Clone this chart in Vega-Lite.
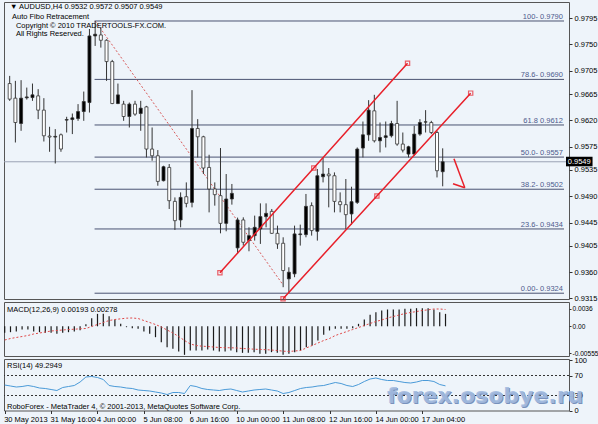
{
  "$schema": "https://vega.github.io/schema/vega-lite/v6.json",
  "background": "#eef4fa",
  "padding": {"left": 2, "top": 1, "right": 0, "bottom": 0},
  "spacing": 3,
  "bounds": "flush",
  "config": {
    "view": {"stroke": "#555555", "strokeWidth": 1, "fill": "#eef4fa"},
    "axis": {"labelFont": "Liberation Sans", "labelFontSize": 7.5, "labelColor": "#000000", "tickColor": "#333333", "tickSize": 3, "labelPadding": 2, "domain": false, "grid": false, "title": null},
    "text": {"font": "Liberation Sans", "fontSize": 7.5, "color": "#000000"}
  },
  "datasets": {
    "bars": [
      {"i":0,"o":0.96829,"h":0.96960,"l":0.96533,"c":0.96562,"m":-0.00134,"s":-0.00282,"r":51},
      {"i":1,"o":0.96579,"h":0.96875,"l":0.95820,"c":0.96162,"m":-0.00121,"s":-0.00251,"r":49},
      {"i":2,"o":0.96145,"h":0.96887,"l":0.96020,"c":0.96579,"m":-0.00107,"s":-0.00230,"r":47},
      {"i":3,"o":0.96585,"h":0.96760,"l":0.96555,"c":0.96600,"m":-0.00066,"s":-0.00210,"r":48},
      {"i":4,"o":0.96589,"h":0.96829,"l":0.96533,"c":0.96636,"m":-0.00066,"s":-0.00189,"r":50},
      {"i":5,"o":0.96618,"h":0.96733,"l":0.96220,"c":0.96374,"m":-0.00107,"s":-0.00158,"r":48},
      {"i":6,"o":0.96374,"h":0.96579,"l":0.95837,"c":0.95935,"m":-0.00121,"s":-0.00138,"r":45},
      {"i":7,"o":0.95930,"h":0.96089,"l":0.95661,"c":0.95913,"m":-0.00134,"s":-0.00117,"r":44},
      {"i":8,"o":0.95913,"h":0.96049,"l":0.95461,"c":0.95925,"m":-0.00134,"s":-0.00097,"r":42},
      {"i":9,"o":0.95952,"h":0.95974,"l":0.95661,"c":0.95708,"m":-0.00155,"s":-0.00086,"r":40},
      {"i":10,"o":0.96203,"h":0.96260,"l":0.95991,"c":0.96213,"m":-0.00134,"s":-0.00076,"r":46},
      {"i":11,"o":0.96213,"h":0.96316,"l":0.95964,"c":0.96242,"m":-0.00121,"s":-0.00066,"r":48},
      {"i":12,"o":0.96230,"h":0.96477,"l":0.96191,"c":0.96350,"m":-0.00107,"s":-0.00060,"r":50},
      {"i":13,"o":0.96350,"h":0.96692,"l":0.96191,"c":0.96521,"m":-0.00080,"s":-0.00051,"r":57},
      {"i":14,"o":0.96504,"h":0.97763,"l":0.96333,"c":0.97644,"m":0.00044,"s":-0.00045,"r":67},
      {"i":15,"o":0.97644,"h":0.97900,"l":0.97473,"c":0.97673,"m":0.00167,"s":-0.00004,"r":68},
      {"i":16,"o":0.97661,"h":0.97786,"l":0.97444,"c":0.97570,"m":0.00256,"s":0.00037,"r":66},
      {"i":17,"o":0.97570,"h":0.97587,"l":0.96875,"c":0.97205,"m":0.00256,"s":0.00078,"r":62},
      {"i":18,"o":0.97205,"h":0.97234,"l":0.96477,"c":0.96487,"m":0.00208,"s":0.00119,"r":50},
      {"i":19,"o":0.96487,"h":0.96829,"l":0.96477,"c":0.96635,"m":0.00140,"s":0.00140,"r":48},
      {"i":20,"o":0.96477,"h":0.96533,"l":0.96191,"c":0.96265,"m":0.00051,"s":0.00154,"r":47},
      {"i":21,"o":0.96265,"h":0.96504,"l":0.96077,"c":0.96477,"m":-0.00018,"s":0.00167,"r":45},
      {"i":22,"o":0.96477,"h":0.96533,"l":0.96277,"c":0.96306,"m":-0.00038,"s":0.00171,"r":44},
      {"i":23,"o":0.96316,"h":0.96533,"l":0.96020,"c":0.96408,"m":-0.00052,"s":0.00160,"r":41},
      {"i":24,"o":0.96430,"h":0.96447,"l":0.95564,"c":0.95708,"m":-0.00107,"s":0.00119,"r":40},
      {"i":25,"o":0.95708,"h":0.96077,"l":0.95508,"c":0.95593,"m":-0.00155,"s":0.00078,"r":39},
      {"i":26,"o":0.95593,"h":0.95690,"l":0.95080,"c":0.95154,"m":-0.00224,"s":0.00037,"r":37},
      {"i":27,"o":0.95166,"h":0.95422,"l":0.95154,"c":0.95405,"m":-0.00326,"s":-0.00014,"r":35},
      {"i":28,"o":0.95393,"h":0.95451,"l":0.94682,"c":0.94824,"m":-0.00429,"s":-0.00076,"r":32},
      {"i":29,"o":0.94812,"h":0.94880,"l":0.94323,"c":0.94482,"m":-0.00464,"s":-0.00138,"r":36},
      {"i":30,"o":0.94494,"h":0.94966,"l":0.94368,"c":0.94880,"m":-0.00518,"s":-0.00210,"r":36},
      {"i":31,"o":0.94892,"h":0.95137,"l":0.94710,"c":0.94778,"m":-0.00587,"s":-0.00292,"r":34},
      {"i":32,"o":0.94795,"h":0.96716,"l":0.94710,"c":0.96060,"m":-0.00498,"s":-0.00364,"r":50},
      {"i":33,"o":0.96060,"h":0.96220,"l":0.95564,"c":0.95918,"m":-0.00498,"s":-0.00395,"r":48},
      {"i":34,"o":0.95918,"h":0.95935,"l":0.95280,"c":0.95383,"m":-0.00498,"s":-0.00409,"r":44},
      {"i":35,"o":0.95393,"h":0.95610,"l":0.94624,"c":0.95024,"m":-0.00477,"s":-0.00416,"r":42},
      {"i":36,"o":0.95024,"h":0.95137,"l":0.94739,"c":0.94927,"m":-0.00498,"s":-0.00426,"r":41},
      {"i":37,"o":0.94910,"h":0.95725,"l":0.94265,"c":0.94436,"m":-0.00518,"s":-0.00436,"r":40},
      {"i":38,"o":0.94436,"h":0.95280,"l":0.94300,"c":0.94853,"m":-0.00518,"s":-0.00440,"r":42},
      {"i":39,"o":0.94853,"h":0.95110,"l":0.94756,"c":0.94949,"m":-0.00498,"s":-0.00442,"r":43},
      {"i":40,"o":0.94016,"h":0.94534,"l":0.93913,"c":0.94494,"m":-0.00532,"s":-0.00446,"r":40},
      {"i":41,"o":0.94494,"h":0.94539,"l":0.94055,"c":0.94112,"m":-0.00546,"s":-0.00457,"r":37},
      {"i":42,"o":0.94141,"h":0.94368,"l":0.93958,"c":0.94226,"m":-0.00546,"s":-0.00463,"r":39},
      {"i":43,"o":0.94226,"h":0.94568,"l":0.94141,"c":0.94368,"m":-0.00532,"s":-0.00471,"r":41},
      {"i":44,"o":0.94340,"h":0.94778,"l":0.94084,"c":0.94551,"m":-0.00566,"s":-0.00477,"r":42},
      {"i":45,"o":0.94551,"h":0.94778,"l":0.94368,"c":0.94607,"m":-0.00566,"s":-0.00481,"r":43},
      {"i":46,"o":0.94641,"h":0.94682,"l":0.94255,"c":0.94265,"m":-0.00532,"s":-0.00488,"r":41},
      {"i":47,"o":0.94265,"h":0.94397,"l":0.93999,"c":0.94084,"m":-0.00546,"s":-0.00498,"r":39},
      {"i":48,"o":0.94095,"h":0.94197,"l":0.93343,"c":0.93628,"m":-0.00587,"s":-0.00512,"r":34},
      {"i":49,"o":0.93486,"h":0.93684,"l":0.93240,"c":0.93599,"m":-0.00566,"s":-0.00518,"r":36},
      {"i":50,"o":0.93572,"h":0.94397,"l":0.93514,"c":0.94255,"m":-0.00532,"s":-0.00508,"r":40},
      {"i":51,"o":0.94243,"h":0.94414,"l":0.94055,"c":0.94255,"m":-0.00498,"s":-0.00498,"r":44},
      {"i":52,"o":0.94243,"h":0.94939,"l":0.94197,"c":0.94727,"m":-0.00429,"s":-0.00446,"r":46},
      {"i":53,"o":0.94739,"h":0.94795,"l":0.94226,"c":0.94312,"m":-0.00395,"s":-0.00395,"r":47},
      {"i":54,"o":0.94300,"h":0.95366,"l":0.94141,"c":0.95251,"m":-0.00292,"s":-0.00344,"r":49},
      {"i":55,"o":0.95234,"h":0.95564,"l":0.95137,"c":0.95280,"m":-0.00176,"s":-0.00292,"r":50},
      {"i":56,"o":0.95280,"h":0.95383,"l":0.94710,"c":0.95251,"m":-0.00086,"s":-0.00251,"r":53},
      {"i":57,"o":0.95251,"h":0.95308,"l":0.94624,"c":0.94812,"m":-0.00052,"s":-0.00189,"r":56},
      {"i":58,"o":0.94807,"h":0.94966,"l":0.94624,"c":0.94756,"m":-0.00052,"s":-0.00148,"r":54},
      {"i":59,"o":0.94756,"h":0.95195,"l":0.94340,"c":0.94585,"m":-0.00052,"s":-0.00107,"r":50},
      {"i":60,"o":0.94597,"h":0.95063,"l":0.94414,"c":0.94807,"m":-0.00038,"s":-0.00066,"r":48},
      {"i":61,"o":0.94795,"h":0.95735,"l":0.94768,"c":0.95708,"m":0.00051,"s":-0.00025,"r":52},
      {"i":62,"o":0.95725,"h":0.96179,"l":0.95564,"c":0.95952,"m":0.00140,"s":0.00016,"r":58},
      {"i":63,"o":0.95952,"h":0.96545,"l":0.95849,"c":0.96374,"m":0.00236,"s":0.00058,"r":63},
      {"i":64,"o":0.96362,"h":0.96636,"l":0.95820,"c":0.95849,"m":0.00291,"s":0.00099,"r":65},
      {"i":65,"o":0.95849,"h":0.96162,"l":0.95650,"c":0.95906,"m":0.00325,"s":0.00130,"r":62},
      {"i":66,"o":0.95906,"h":0.96179,"l":0.95735,"c":0.95935,"m":0.00346,"s":0.00171,"r":60},
      {"i":67,"o":0.95935,"h":0.96191,"l":0.95906,"c":0.96145,"m":0.00346,"s":0.00202,"r":60},
      {"i":68,"o":0.96145,"h":0.96533,"l":0.95764,"c":0.95793,"m":0.00346,"s":0.00232,"r":58},
      {"i":69,"o":0.95793,"h":0.95991,"l":0.95650,"c":0.95690,"m":0.00359,"s":0.00263,"r":56},
      {"i":70,"o":0.95622,"h":0.95764,"l":0.95564,"c":0.95747,"m":0.00359,"s":0.00284,"r":55},
      {"i":71,"o":0.95622,"h":0.96106,"l":0.95593,"c":0.95964,"m":0.00373,"s":0.00304,"r":57},
      {"i":72,"o":0.95964,"h":0.96220,"l":0.95935,"c":0.96162,"m":0.00373,"s":0.00325,"r":60},
      {"i":73,"o":0.96169,"h":0.96374,"l":0.95991,"c":0.96174,"m":0.00373,"s":0.00339,"r":60},
      {"i":74,"o":0.96162,"h":0.96191,"l":0.95964,"c":0.95991,"m":0.00346,"s":0.00356,"r":58},
      {"i":75,"o":0.95991,"h":0.96020,"l":0.95222,"c":0.95337,"m":0.00291,"s":0.00356,"r":52},
      {"i":76,"o":0.95320,"h":0.95720,"l":0.95070,"c":0.95490,"m":0.00256,"s":0.00346,"r":49.3}
    ],
    "fibo": [
      {"p":0.9790,"t":"100- 0.9790"},
      {"p":0.9690,"t":"78.6- 0.9690"},
      {"p":0.9612,"t":"61.8 0.9612"},
      {"p":0.9557,"t":"50.0- 0.9557"},
      {"p":0.9502,"t":"38.2- 0.9502"},
      {"p":0.9434,"t":"23.6- 0.9434"},
      {"p":0.9324,"t":"0.00- 0.9324"}
    ],
    "channel": [
      {"ln":"upper","i":36.9,"p":0.93589},
      {"ln":"upper","i":53.37,"p":0.95383},
      {"ln":"upper","i":69.83,"p":0.97177},
      {"ln":"lower","i":47.98,"p":0.93144},
      {"ln":"lower","i":64.45,"p":0.94905},
      {"ln":"lower","i":80.91,"p":0.96665}
    ],
    "zigzag": [
      {"i":15,"p":0.9790},
      {"i":48,"p":0.9338}
    ],
    "arrow": [
      {"seg":"shaft","i":77.98,"p":0.95542},
      {"seg":"shaft","i":79.88,"p":0.95046},
      {"seg":"barb","i":77.81,"p":0.95115},
      {"seg":"barb","i":79.88,"p":0.95046}
    ]
  },
  "vconcat": [
    {
      "width": 565,
      "height": 297,
      "encoding": {
        "x": {"type": "quantitative", "scale": {"domain": [-0.12, 97.29], "nice": false, "zero": false}, "axis": null},
        "y": {"type": "quantitative", "scale": {"domain": [0.93141, 0.98225], "nice": false, "zero": false},
              "axis": {"orient": "right", "values": [0.9795,0.9750,0.9705,0.9665,0.9620,0.9575,0.9535,0.9490,0.9445,0.9405,0.9360,0.9315], "format": ".4f"}}
      },
      "layer": [
        {"mark": {"type": "rule", "color": "#9aa3b5", "strokeWidth": 1},
         "data": {"values": [{}]},
         "encoding": {"y": {"datum": 0.9549}}},
        {"data": {"name": "fibo"},
         "mark": {"type": "rule", "color": "#4a5372", "strokeWidth": 1},
         "encoding": {"x": {"datum": 14.9}, "x2": {"datum": 97.29}, "y": {"field": "p"}}},
        {"data": {"name": "fibo"},
         "mark": {"type": "text", "align": "right", "baseline": "alphabetic", "dy": -2, "color": "#4d5a8c"},
         "encoding": {"x": {"datum": 97.1}, "y": {"field": "p"}, "text": {"field": "t"}}},
        {"data": {"name": "zigzag"},
         "mark": {"type": "line", "color": "#d85a5a", "strokeWidth": 1, "strokeDash": [2, 2]},
         "encoding": {"x": {"field": "i"}, "y": {"field": "p"}}},
        {"data": {"name": "bars"},
         "mark": {"type": "rule", "color": "#333333", "strokeWidth": 1},
         "encoding": {"x": {"field": "i"}, "y": {"field": "l"}, "y2": {"field": "h"}}},
        {"data": {"name": "bars"},
         "mark": {"type": "bar", "size": 3, "stroke": "#333333", "strokeWidth": 0.8},
         "encoding": {"x": {"field": "i"}, "y": {"field": "o"}, "y2": {"field": "c"},
                      "fill": {"condition": {"test": "datum.c > datum.o", "value": "#000000"}, "value": "#ffffff"}}},
        {"data": {"name": "channel"},
         "mark": {"type": "line", "color": "#e8202a", "strokeWidth": 1.5},
         "encoding": {"x": {"field": "i"}, "y": {"field": "p"}, "detail": {"field": "ln"}}},
        {"data": {"name": "channel"},
         "mark": {"type": "point", "shape": "square", "filled": false, "color": "#e8202a", "size": 18, "strokeWidth": 1.2},
         "encoding": {"x": {"field": "i"}, "y": {"field": "p"}}},
        {"data": {"name": "arrow"},
         "mark": {"type": "line", "color": "#e8202a", "strokeWidth": 1.5},
         "encoding": {"x": {"field": "i"}, "y": {"field": "p"}, "detail": {"field": "seg"}}},
        {"data": {"values": [{}]},
         "mark": {"type": "text", "align": "left", "baseline": "middle"},
         "encoding": {"x": {"datum": 0.05}, "y": {"datum": 0.98139}, "text": {"value": "▼ AUDUSD,H4  0.9532 0.9572 0.9507 0.9549"}}},
        {"data": {"values": [{}]},
         "mark": {"type": "text", "align": "left", "baseline": "middle"},
         "encoding": {"x": {"datum": 0.4}, "y": {"datum": 0.97968}, "text": {"value": "Auto Fibo Retracement"}}},
        {"data": {"values": [{}]},
         "mark": {"type": "text", "align": "left", "baseline": "middle"},
         "encoding": {"x": {"datum": 1.09}, "y": {"datum": 0.97815}, "text": {"value": "Copyright © 2010 TRADERTOOLS-FX.COM."}}},
        {"data": {"values": [{}]},
         "mark": {"type": "text", "align": "left", "baseline": "middle"},
         "encoding": {"x": {"datum": 1.09}, "y": {"datum": 0.97669}, "text": {"value": "All Rights Reserved."}}},
        {"data": {"values": [{}]},
         "mark": {"type": "rect", "color": "#000000"},
         "encoding": {"x": {"datum": 97.64}, "x2": {"datum": 102.3}, "y": {"datum": 0.95576}, "y2": {"datum": 0.95412}}},
        {"data": {"values": [{}]},
         "mark": {"type": "text", "align": "left", "baseline": "middle", "color": "#ffffff"},
         "encoding": {"x": {"datum": 97.95}, "y": {"datum": 0.95494}, "text": {"value": "0.9549"}}}
      ]
    },
    {
      "width": 565,
      "height": 54,
      "encoding": {
        "x": {"type": "quantitative", "scale": {"domain": [-0.12, 97.29], "nice": false, "zero": false}, "axis": null},
        "y": {"type": "quantitative", "scale": {"domain": [-0.00611, 0.005], "nice": false, "zero": false},
              "axis": {"orient": "right", "values": [0.0036, 0, -0.00555], "labelFontSize": 6.6, "tickSize": 2, "labelPadding": 1,
                       "labelExpr": "datum.value > 0.001 ? '0.0036' : datum.value < -0.001 ? '-0.00555' : '0.00'"}}
      },
      "layer": [
        {"data": {"name": "bars"},
         "mark": {"type": "rule", "color": "#1a1a1a", "strokeWidth": 1.2},
         "encoding": {"x": {"field": "i"}, "y": {"field": "m"}, "y2": {"datum": 0}}},
        {"data": {"name": "bars"},
         "mark": {"type": "line", "color": "#e04848", "strokeWidth": 1, "strokeDash": [2, 2]},
         "encoding": {"x": {"field": "i"}, "y": {"field": "s"}}},
        {"data": {"values": [{}]},
         "mark": {"type": "text", "align": "left", "baseline": "middle"},
         "encoding": {"x": {"datum": 0.4}, "y": {"datum": 0.0034}, "text": {"value": "MACD(12,26,9) 0.00193 0.00278"}}}
      ]
    },
    {
      "width": 565,
      "height": 51.5,
      "encoding": {
        "x": {"type": "quantitative", "scale": {"domain": [-0.12, 97.29], "nice": false, "zero": false},
              "axis": {"orient": "bottom", "values": [0, 8, 16, 24, 32, 40, 48, 56, 64, 72], "labelAlign": "left", "labelOffset": -1, "labelPadding": 2,
                       "labelExpr": "datum.value==0?'30 May 2013':datum.value==8?'31 May 16:00':datum.value==16?'4 Jun 00:00':datum.value==24?'5 Jun 08:00':datum.value==32?'6 Jun 16:00':datum.value==40?'10 Jun 00:00':datum.value==48?'11 Jun 08:00':datum.value==56?'12 Jun 16:00':datum.value==64?'14 Jun 00:00':'17 Jun 04:00'"}},
        "y": {"type": "quantitative", "scale": {"domain": [0, 103], "nice": false, "zero": false},
              "axis": {"orient": "right", "values": [100, 70, 30, 0]}}
      },
      "layer": [
        {"data": {"values": [{"lv": 70}, {"lv": 30}]},
         "mark": {"type": "rule", "color": "#333333", "strokeWidth": 1, "strokeDash": [2, 2]},
         "encoding": {"y": {"field": "lv"}}},
        {"data": {"name": "bars"},
         "mark": {"type": "line", "color": "#4a9ad8", "strokeWidth": 1},
         "encoding": {"x": {"field": "i"}, "y": {"field": "r"}}},
        {"data": {"values": [{}]},
         "mark": {"type": "text", "align": "left", "baseline": "middle"},
         "encoding": {"x": {"datum": 0.4}, "y": {"datum": 90}, "text": {"value": "RSI(14) 49.2949"}}},
        {"data": {"values": [{}]},
         "mark": {"type": "text", "align": "left", "baseline": "middle"},
         "encoding": {"x": {"datum": 0.4}, "y": {"datum": 8}, "text": {"value": "RoboForex - MetaTrader 4, © 2001-2013, MetaQuotes Software Corp."}}},
        {"data": {"values": [{}]},
         "mark": {"type": "text", "align": "left", "baseline": "alphabetic", "font": "DejaVu Sans", "fontWeight": "bold", "fontSize": 22, "color": "#5b79ad", "dx": 1, "dy": 1, "opacity": 0.8},
         "encoding": {"x": {"datum": 65.9}, "y": {"datum": 16}, "text": {"value": "forex.osobye.ru"}}},
        {"data": {"values": [{}]},
         "mark": {"type": "text", "align": "left", "baseline": "alphabetic", "font": "DejaVu Sans", "fontWeight": "bold", "fontSize": 22, "color": "#a3bbdf", "opacity": 0.9},
         "encoding": {"x": {"datum": 65.9}, "y": {"datum": 16}, "text": {"value": "forex.osobye.ru"}}}
      ]
    }
  ]
}
